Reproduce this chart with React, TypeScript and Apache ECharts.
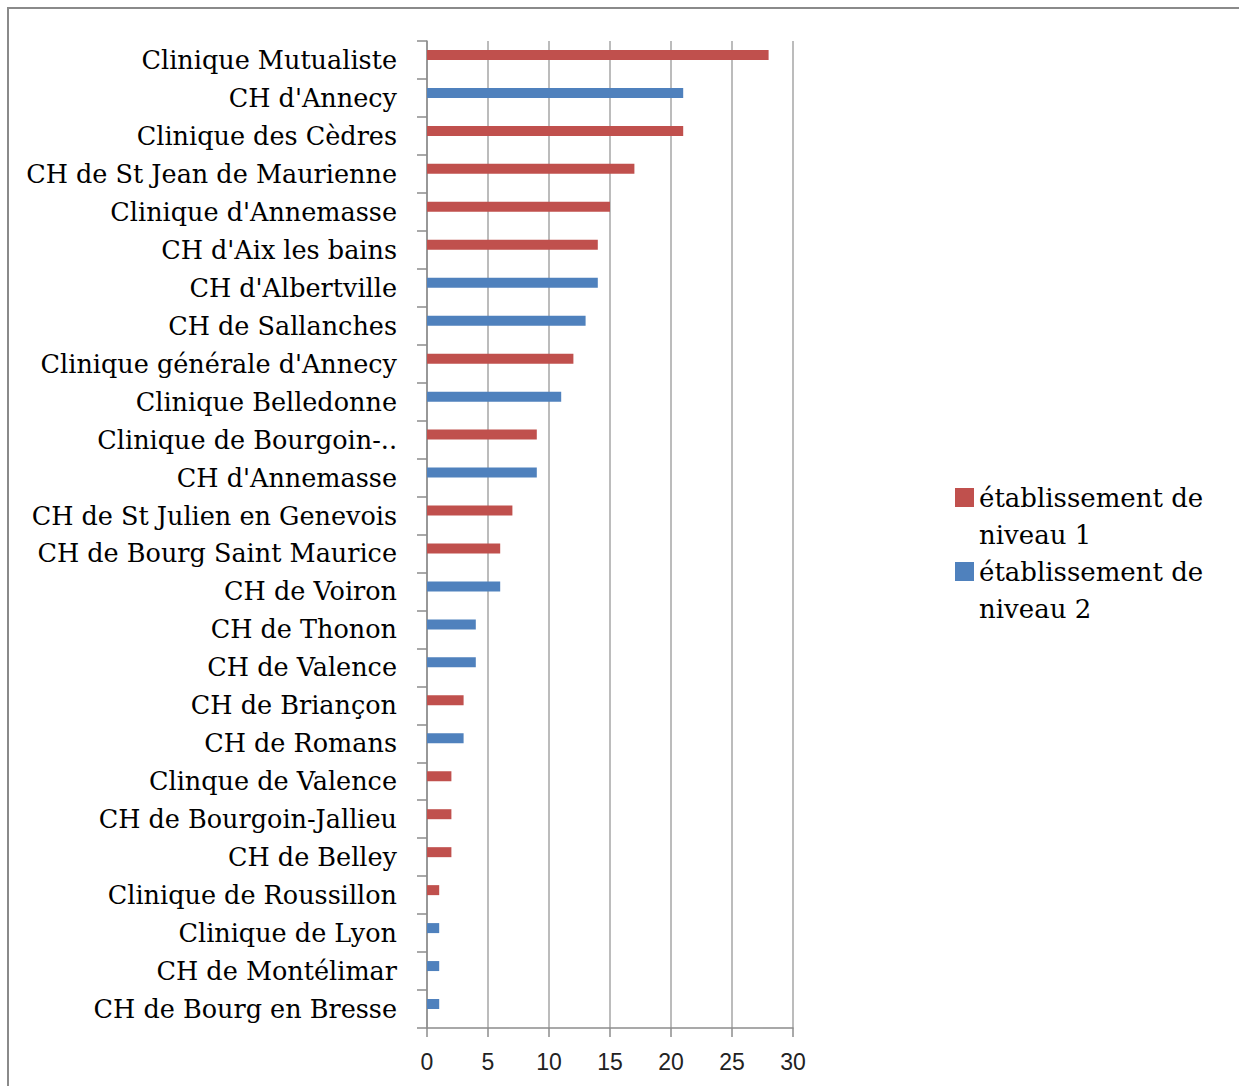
import React, { useEffect, useRef } from "react";
import * as echarts from "echarts";

const categories = [
  "Clinique Mutualiste",
  "CH d'Annecy",
  "Clinique des Cèdres",
  "CH de St Jean de Maurienne",
  "Clinique d'Annemasse",
  "CH d'Aix les bains",
  "CH d'Albertville",
  "CH de Sallanches",
  "Clinique générale d'Annecy",
  "Clinique Belledonne",
  "Clinique de Bourgoin-..",
  "CH d'Annemasse",
  "CH de St Julien en Genevois",
  "CH de Bourg Saint Maurice",
  "CH de Voiron",
  "CH de Thonon",
  "CH de Valence",
  "CH de Briançon",
  "CH de Romans",
  "Clinque de Valence",
  "CH de Bourgoin-Jallieu",
  "CH de Belley",
  "Clinique de Roussillon",
  "Clinique de Lyon",
  "CH de Montélimar",
  "CH de Bourg en Bresse",
];

const niveau1 = [28, 0, 21, 17, 15, 14, 0, 0, 12, 0, 9, 0, 7, 6, 0, 0, 0, 3, 0, 2, 2, 2, 1, 0, 0, 0];
const niveau2 = [0, 21, 0, 0, 0, 0, 14, 13, 0, 11, 0, 9, 0, 0, 6, 4, 4, 0, 3, 0, 0, 0, 0, 1, 1, 1];

const xTicks = { min: 0, max: 30, interval: 5 };
const seriesNames = ["établissement de niveau 1", "établissement de niveau 2"];

export default function App() {
  const ref = useRef<HTMLDivElement>(null);
  useEffect(() => {
    document.body.style.margin = "0";
    if (!ref.current) return;
    const chart = echarts.init(ref.current, null, { renderer: "svg" });
    const serif = "DejaVu Serif";
    chart.setOption({
      animation: false,
      backgroundColor: "#ffffff",
      graphic: [
        {
          type: "rect",
          shape: { x: 8, y: 8, width: 1400, height: 1200 },
          style: { fill: "none", stroke: "#8a8a8a", lineWidth: 2 },
          silent: true,
        },
      ],
      legend: {
        orient: "vertical",
        left: 955,
        top: 479,
        padding: 0,
        itemGap: 0,
        itemWidth: 19,
        itemHeight: 74,
        icon: "path://M0,0h19v0.01h-19zM0,9h19v19h-19zM0,73.99h19v0.01h-19z",
        data: seriesNames,
        formatter: (name: string) => name.replace(" niveau", "\nniveau"),
        textStyle: { fontFamily: serif, fontSize: 26, lineHeight: 37, color: "#000" },
      },
      grid: { left: 427, right: 446, top: 41, bottom: 58, containLabel: false },
      xAxis: {
        type: "value",
        min: xTicks.min,
        max: xTicks.max,
        interval: xTicks.interval,
        axisLine: { show: true, lineStyle: { color: "#8c8c8c", width: 1.5 } },
        axisTick: { show: true, length: 9, lineStyle: { color: "#8c8c8c", width: 1.5 } },
        splitLine: { show: true, lineStyle: { color: "#a6a6a6", width: 1.5 } },
        axisLabel: { fontFamily: "Liberation Sans", fontSize: 23, color: "#222", margin: 22 },
      },
      yAxis: {
        type: "category",
        inverse: true,
        data: categories,
        axisLine: { show: true, lineStyle: { color: "#8c8c8c", width: 1.5 } },
        axisTick: { show: true, length: 10, alignWithLabel: false, lineStyle: { color: "#8c8c8c", width: 1.5 } },
        axisLabel: { fontFamily: serif, fontSize: 25.5, color: "#000", margin: 30, interval: 0 },
        splitLine: { show: false },
      },
      series: [
        {
          name: seriesNames[0],
          type: "bar",
          stack: "all",
          data: niveau1,
          barWidth: 10,
          barGap: 0,
          itemStyle: { color: "#C0504D" },
        },
        {
          name: seriesNames[1],
          type: "bar",
          stack: "all",
          data: niveau2,
          barWidth: 10,
          barGap: 0,
          itemStyle: { color: "#4F81BD" },
        },
        {
          name: "spacer",
          type: "bar",
          data: categories.map(() => 0),
          barWidth: 10,
          barGap: 0,
          silent: true,
          itemStyle: { color: "transparent" },
        },
      ],
    });
    return () => chart.dispose();
  }, []);
  return <div ref={ref} style={{ width: 1239, height: 1086 }} />;
}
